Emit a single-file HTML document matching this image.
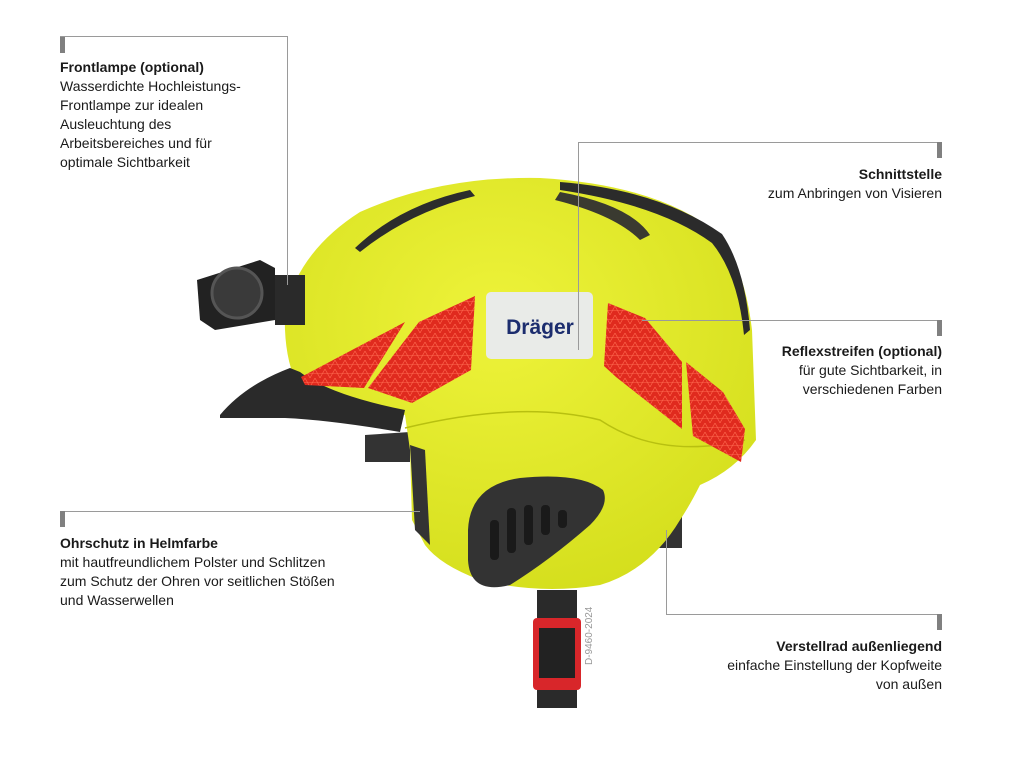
<!DOCTYPE html>
<html><head><meta charset="utf-8"><style>
html,body{margin:0;padding:0;background:#fff}
body{width:1024px;height:765px;position:relative;overflow:hidden;font-family:"Liberation Sans",sans-serif;color:#1a1a1a}
.t{position:absolute;font-size:14px;line-height:19px}
.t b{font-weight:bold}
.r{text-align:right}
</style></head><body>
<svg width="1024" height="765" style="position:absolute;left:0;top:0">
<defs>
<pattern id="tri" width="10" height="9" patternUnits="userSpaceOnUse">
<rect width="10" height="9" fill="#e02a1e"/>
<path d="M0 9L5 0L10 9M0 4.5H10" stroke="#ff6a50" stroke-width="0.6" fill="none"/>
</pattern>
<radialGradient id="yg" cx="0.45" cy="0.35" r="0.7">
<stop offset="0" stop-color="#eef33a"/><stop offset="1" stop-color="#d4de1c"/>
</radialGradient>
</defs>
<!-- strap -->
<rect x="537" y="590" width="40" height="118" fill="#2a2a2a"/>
<rect x="533" y="618" width="48" height="72" rx="4" fill="#d8262a"/>
<rect x="539" y="628" width="36" height="50" fill="#222"/>
<!-- rear straps -->
<path d="M655 505 L682 505 L682 548 L655 548Z" fill="#333"/>
<path d="M365 435 L410 432 L410 462 L365 462Z" fill="#333"/>
<!-- helmet shell -->
<path d="M285 310 Q300 250 360 212 Q440 176 540 178 Q660 185 720 235 Q745 270 752 330 L756 440 Q735 470 700 485 Q690 505 680 520 Q650 570 600 585 Q540 595 480 580 Q440 565 425 545 L412 520 L410 450 L405 415 L300 390 Q283 360 285 310Z" fill="url(#yg)"/>
<!-- back dark ridge band -->
<path d="M560 182 Q660 190 722 234 Q745 268 750 330 L744 335 Q738 275 712 243 Q660 205 560 190Z" fill="#2b2b2b"/>
<!-- shell seam -->
<path d="M405 428 Q520 400 600 420 Q660 460 745 440" stroke="#b8c010" stroke-width="1.5" fill="none"/>
<!-- ear pad dark -->
<path d="M410 445 L425 450 L430 545 L415 530Z" fill="#333"/>
<!-- slots on top -->
<path d="M355 248 Q400 205 470 190 L475 196 Q410 212 360 252Z" fill="#2c2c2c"/>
<path d="M560 192 Q630 205 650 235 L640 240 Q615 215 555 200Z" fill="#3a3a30"/>
<!-- brim -->
<path d="M220 415 Q245 385 290 368 L300 372 Q330 395 405 410 L400 432 Q330 420 285 418 Q250 418 220 418Z" fill="#2a2a2a"/>
<!-- lamp -->
<rect x="275" y="275" width="30" height="50" fill="#2a2a2a"/>
<path d="M197 280 L260 260 L275 268 L275 320 L215 330 L200 320Z" fill="#222"/>
<circle cx="237" cy="293" r="25" fill="#3a3a3a" stroke="#555" stroke-width="3"/>
<!-- red stripes -->
<path d="M301 377 L405 322 L364 388 L305 385Z" fill="url(#tri)"/>
<path d="M368 388 L419 322 L475 296 L471 370 L412 403Z" fill="url(#tri)"/>
<path d="M608 303 L645 318 L682 362 L682 429 L616 377 L604 366Z" fill="url(#tri)"/>
<path d="M686 362 L723 392 L745 429 L741 462 L693 436Z" fill="url(#tri)"/>
<!-- logo -->
<rect x="486" y="292" width="107" height="67" rx="5" fill="#e9ebe8"/>
<text x="540" y="334" text-anchor="middle" font-family="Liberation Sans,sans-serif" font-weight="bold" font-size="21" fill="#1c2d6e">Dräger</text>
<!-- ear vent -->
<path d="M468 530 Q470 485 520 478 Q580 472 603 490 Q610 505 590 525 Q550 560 510 585 Q470 595 468 560Z" fill="#333"/>
<g fill="#1a1a1a"><rect x="490" y="520" width="9" height="40" rx="4"/><rect x="507" y="508" width="9" height="45" rx="4"/><rect x="524" y="505" width="9" height="40" rx="4"/><rect x="541" y="505" width="9" height="30" rx="4"/><rect x="558" y="510" width="9" height="18" rx="4"/></g>
<text transform="translate(592,665) rotate(-90)" font-family="Liberation Sans,sans-serif" font-size="10" fill="#999">D-9460-2024</text>
<!-- leader lines -->
<g stroke="#9a9a9a" stroke-width="1" fill="none">
<path d="M60 36.5H287.5V285"/>
<path d="M578.5 350V142.5H942"/>
<path d="M642 320.5H942"/>
<path d="M60 511.5H420"/>
<path d="M666.5 530V614.5H942"/>
</g>
<g fill="#808080">
<rect x="60" y="37" width="5" height="16"/>
<rect x="937" y="142" width="5" height="16"/>
<rect x="937" y="320" width="5" height="16"/>
<rect x="60" y="511" width="5" height="16"/>
<rect x="937" y="614" width="5" height="16"/>
</g>
</svg>
<div class="t" style="left:60px;top:58px"><b>Frontlampe (optional)</b><br>Wasserdichte Hochleistungs-<br>Frontlampe zur idealen<br>Ausleuchtung des<br>Arbeitsbereiches und für<br>optimale Sichtbarkeit</div>
<div class="t r" style="right:82px;top:165px"><b>Schnittstelle</b><br>zum Anbringen von Visieren</div>
<div class="t r" style="right:82px;top:342px"><b>Reflexstreifen (optional)</b><br>für gute Sichtbarkeit, in<br>verschiedenen Farben</div>
<div class="t" style="left:60px;top:534px"><b>Ohrschutz in Helmfarbe</b><br>mit hautfreundlichem Polster und Schlitzen<br>zum Schutz der Ohren vor seitlichen Stößen<br>und Wasserwellen</div>
<div class="t r" style="right:82px;top:637px"><b>Verstellrad außenliegend</b><br>einfache Einstellung der Kopfweite<br>von außen</div>
</body></html>
